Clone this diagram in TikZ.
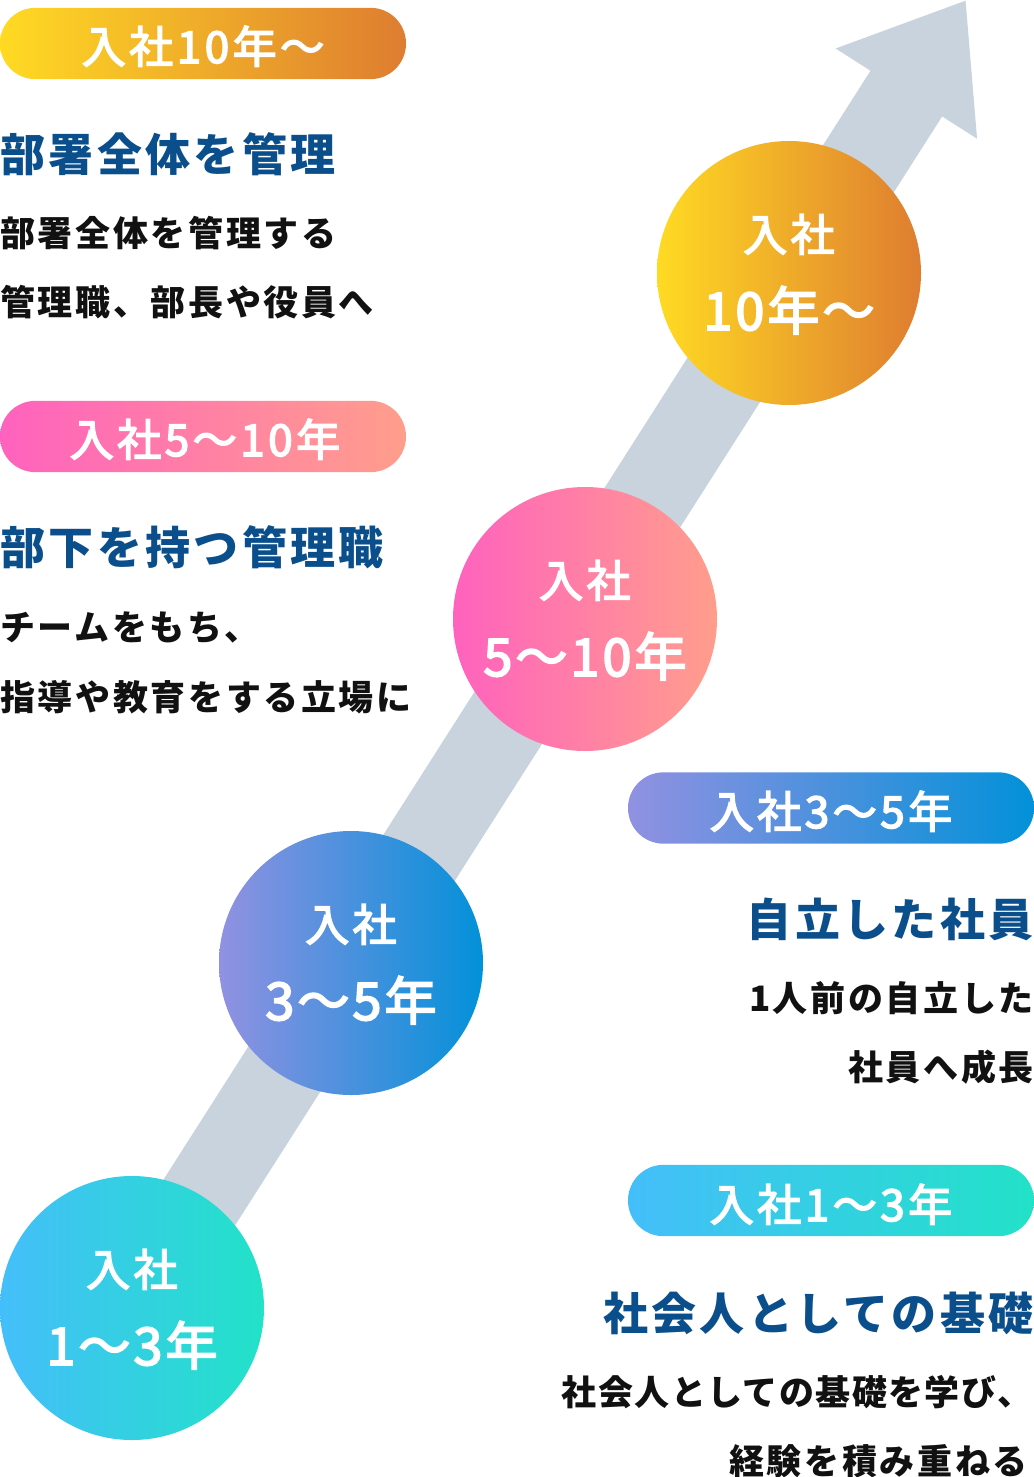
\documentclass[tikz,border=0pt]{standalone}
\usepackage{fontspec}
\setmainfont{Noto Sans CJK JP}
\newfontfamily\jpsp{Noto Sans CJK JP}[LetterSpace=7.5]
\newfontfamily\jpbd{Noto Sans CJK JP}[LetterSpace=7.5]
\newfontfamily\jpbdn{Noto Sans CJK JP}[LetterSpace=4]
\newfontfamily\jpw{Noto Sans CJK JP}[LetterSpace=8,FakeBold=3.5]
\newfontfamily\jpn{Noto Sans CJK JP}[LetterSpace=6,FakeBold=3.5]
\usetikzlibrary{arrows.meta}
\definecolor{hd}{RGB}{10,78,140}
\definecolor{bodyc}{RGB}{17,17,17}
\definecolor{ag}{RGB}{200,211,221}
\definecolor{aL}{RGB}{68,190,250}\definecolor{aR}{RGB}{34,226,200}
\definecolor{bL}{RGB}{145,145,225}\definecolor{bR}{RGB}{2,145,217}
\definecolor{cL}{RGB}{255,98,190}\definecolor{cR}{RGB}{255,158,140}
\definecolor{dL}{RGB}{255,218,35}\definecolor{dR}{RGB}{222,125,48}
\tikzset{
  heading/.style={inner sep=0pt, text=hd, font=\jpsp\bfseries\fontsize{33.75pt}{40pt}\selectfont},
  bodytext/.style={inner sep=0pt, text=bodyc, font=\jpbd\bfseries\fontsize{26.25pt}{30pt}\selectfont},
  bodytight/.style={inner sep=0pt, text=bodyc, font=\jpbdn\bfseries\fontsize{26.25pt}{30pt}\selectfont},
  pilltext/.style={inner sep=0pt, text=white, anchor=base, font=\jpw\fontsize{33pt}{38pt}\selectfont},
  circtop/.style={inner sep=0pt, text=white, anchor=base, font=\jpw\fontsize{33pt}{38pt}\selectfont},
  circnum/.style={inner sep=0pt, text=white, anchor=base, font=\jpn\fontsize{39pt}{44pt}\selectfont},
  stage/.style={circle, inner sep=0pt, minimum size=198pt, shading=axis, shading angle=90},
  pill/.style={rectangle, rounded corners=26.6pt, inner sep=0pt, minimum width=304.5pt, minimum height=53.5pt, shading=axis, shading angle=90}
}
\begin{document}
\begin{tikzpicture}[x=0.75pt,y=-0.75pt]
\useasboundingbox (0,0) rectangle (1034,1477);
% growth arrow
\coordinate (tip) at (966,0);
\coordinate (start) at (132,1308);
\draw[ag, line width=63.75pt, -{Triangle[width=120pt,length=83.25pt]}] (start) -- (tip);
% stage circles
\node[stage, left color=aL, right color=aR] (c1) at (132,1308) {};
\node[stage, left color=bL, right color=bR] (c2) at (351,963) {};
\node[stage, left color=cL, right color=cR] (c3) at (585,619) {};
\node[stage, left color=dL, right color=dR] (c4) at (789,273) {};
\node[circtop] (c1a) at (132,1286) {入社};
\node[circnum] (c1b) at (132,1365) {1～3年};
\node[circtop] (c2a) at (351,941) {入社};
\node[circnum] (c2b) at (351,1020) {3～5年};
\node[circtop] (c3a) at (585,597) {入社};
\node[circnum] (c3b) at (585,676) {5～10年};
\node[circtop] (c4a) at (789,251) {入社};
\node[circnum] (c4b) at (789,330) {10年～};
% pills
\node[pill, left color=dL, right color=dR] (p4) at (203,43.5) {};
\node[pilltext] (p4t) at (203,63) {入社10年～};
\node[pill, left color=cL, right color=cR] (p3) at (203,436.5) {};
\node[pilltext] (p3t) at (205,456) {入社5～10年};
\node[pill, left color=bL, right color=bR] (p2) at (831,808) {};
\node[pilltext] (p2t) at (831,828) {入社3～5年};
\node[pill, left color=aL, right color=aR] (p1) at (831,1200.5) {};
\node[pilltext] (p1t) at (831,1221) {入社1～3年};
% texts, block 10 years
\node[heading, anchor=base west] (h4) at (0,171) {部署全体を管理};
\node[bodytext, anchor=base west] (t4a) at (0,246) {部署全体を管理する};
\node[bodytext, anchor=base west] (t4b) at (0,315) {管理職、部長や役員へ};
% block 5-10
\node[heading, anchor=base west] (h3) at (0,564) {部下を持つ管理職};
\node[bodytext, anchor=base west] (t3a) at (0,640) {チームをもち、};
\node[bodytext, anchor=base west] (t3b) at (0,710) {指導や教育をする立場に};
% block 3-5
\node[heading, anchor=base east] (h2) at (1034,936) {自立した社員};
\node[bodytext, anchor=base east] (t2a) at (1034,1011) {1人前の自立した};
\node[bodytext, anchor=base east] (t2b) at (1034,1080) {社員へ成長};
% block 1-3
\node[heading, anchor=base east] (h1) at (1034,1330) {社会人としての基礎};
\node[bodytight, anchor=base east] (t1a) at (1033,1405) {社会人としての基礎を学び、};
\node[bodytext, anchor=base east] (t1b) at (1028,1474) {経験を積み重ねる};
\end{tikzpicture}
\end{document}
